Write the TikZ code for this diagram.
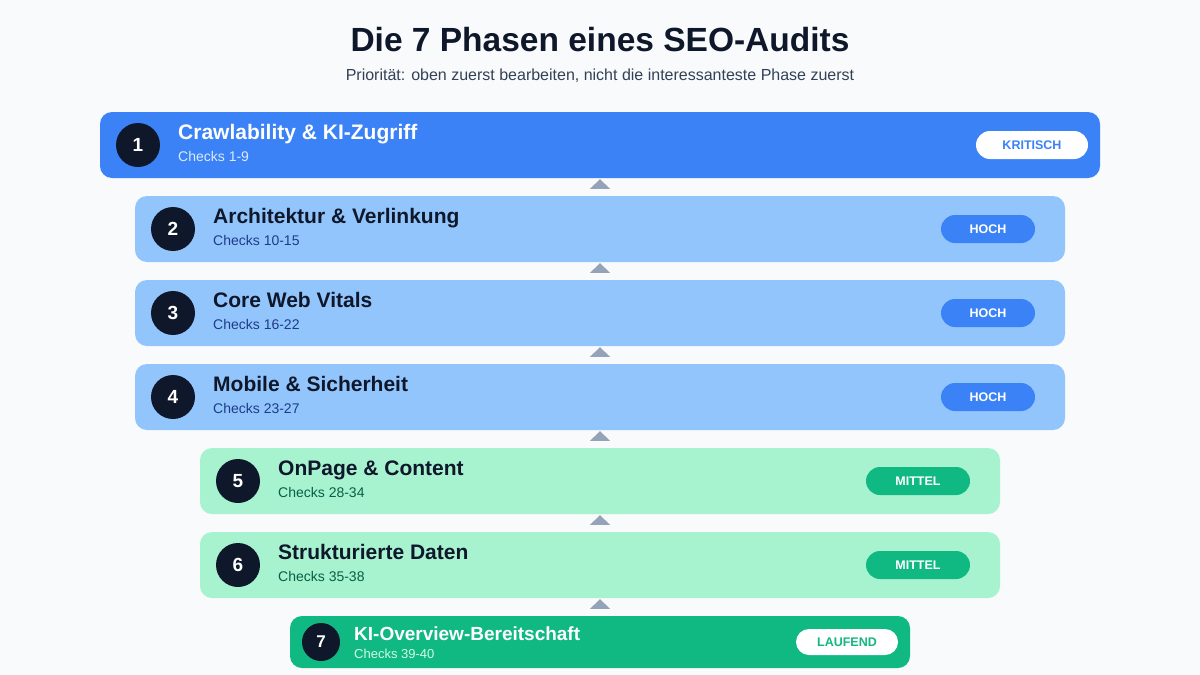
\documentclass[tikz,border=0pt]{standalone}
\usepackage{fontspec}
\setmainfont{Liberation Sans}
\usetikzlibrary{calc}
\definecolor{bg}{HTML}{F8FAFC}
\definecolor{navy}{HTML}{0F172A}
\definecolor{blueA}{HTML}{3B82F6}
\definecolor{blueL}{HTML}{93C5FD}
\definecolor{greenL}{HTML}{A7F3D0}
\definecolor{greenA}{HTML}{10B981}
\definecolor{arrowgray}{HTML}{94A3B8}
\definecolor{subgray}{HTML}{334155}
\definecolor{blueText}{HTML}{1E3A8A}
\definecolor{greenText}{HTML}{065F46}
\definecolor{paleBlue}{HTML}{DBEAFE}
\definecolor{paleGreen}{HTML}{D1FAE5}
\tikzset{
  phasebox/.style={draw=none, rounded corners=12pt, minimum height=66pt, inner sep=0pt},
  numcirc/.style={circle, fill=navy, text=white, minimum size=44pt, inner sep=0pt, font=\fontsize{19}{21}\selectfont\bfseries},
  ttl/.style={anchor=base west, inner sep=0pt, font=\fontsize{21}{24}\selectfont\bfseries},
  chk/.style={anchor=base west, inner sep=0pt, font=\fontsize{14}{16}\selectfont},
  badge/.style={rounded corners=14pt, minimum height=28pt, inner sep=0pt, font=\fontsize{12.5}{14}\selectfont\bfseries},
  tri/.style={fill=arrowgray}
}
\begin{document}
\begin{tikzpicture}[x=1pt,y=-1pt]
\useasboundingbox (0,0) rectangle (1200,675);
\fill[bg] (0,0) rectangle (1200,675);

\node[font=\fontsize{33.5}{38}\selectfont\bfseries, text=navy, anchor=base, inner sep=0pt] (title) at (600,51) {Die 7 Phasen eines SEO-Audits};
\node[font=\fontsize{16}{18}\selectfont, text=subgray, anchor=base, inner sep=0pt] (sub) at (600,80) {Priorität: oben zuerst bearbeiten, nicht die interessanteste Phase zuerst};

% Phase 1
\node[phasebox, fill=blueA, minimum width=1000pt] (b1) at (600,145) {};
\node[numcirc] (n1) at (138,145) {1};
\node[ttl, text=white] (t1) at (178,139) {Crawlability \& KI-Zugriff};
\node[chk, text=paleBlue] (c1) at (178,161) {Checks 1-9};
\node[badge, fill=white, text=blueA, minimum width=112pt] (p1) at (1032,145) {KRITISCH};

% Phase 2
\node[phasebox, fill=blueL, minimum width=930pt] (b2) at (600,229) {};
\node[numcirc] (n2) at (173,229) {2};
\node[ttl, text=navy] (t2) at (213,223) {Architektur \& Verlinkung};
\node[chk, text=blueText] (c2) at (213,245) {Checks 10-15};
\node[badge, fill=blueA, text=white, minimum width=94pt] (p2) at (988,229) {HOCH};

% Phase 3
\node[phasebox, fill=blueL, minimum width=930pt] (b3) at (600,313) {};
\node[numcirc] (n3) at (173,313) {3};
\node[ttl, text=navy] (t3) at (213,307) {Core Web Vitals};
\node[chk, text=blueText] (c3) at (213,329) {Checks 16-22};
\node[badge, fill=blueA, text=white, minimum width=94pt] (p3) at (988,313) {HOCH};

% Phase 4
\node[phasebox, fill=blueL, minimum width=930pt] (b4) at (600,397) {};
\node[numcirc] (n4) at (173,397) {4};
\node[ttl, text=navy] (t4) at (213,391) {Mobile \& Sicherheit};
\node[chk, text=blueText] (c4) at (213,413) {Checks 23-27};
\node[badge, fill=blueA, text=white, minimum width=94pt] (p4) at (988,397) {HOCH};

% Phase 5
\node[phasebox, fill=greenL, minimum width=800pt] (b5) at (600,481) {};
\node[numcirc] (n5) at (238,481) {5};
\node[ttl, text=navy] (t5) at (278,475) {OnPage \& Content};
\node[chk, text=greenText] (c5) at (278,497) {Checks 28-34};
\node[badge, fill=greenA, text=white, minimum width=104pt] (p5) at (918,481) {MITTEL};

% Phase 6
\node[phasebox, fill=greenL, minimum width=800pt] (b6) at (600,565) {};
\node[numcirc] (n6) at (238,565) {6};
\node[ttl, text=navy] (t6) at (278,559) {Strukturierte Daten};
\node[chk, text=greenText] (c6) at (278,581) {Checks 35-38};
\node[badge, fill=greenA, text=white, minimum width=104pt] (p6) at (918,565) {MITTEL};

% Phase 7
\node[phasebox, fill=greenA, minimum width=620pt, minimum height=52pt] (b7) at (600,642) {};
\node[numcirc, minimum size=38pt, font=\fontsize{17}{19}\selectfont\bfseries] (n7) at (321,642) {7};
\node[ttl, text=white, font=\fontsize{19}{22}\selectfont\bfseries] (t7) at (354,640) {KI-Overview-Bereitschaft};
\node[chk, text=paleGreen, font=\fontsize{13}{15}\selectfont] (c7) at (354,658) {Checks 39-40};
\node[badge, fill=white, text=greenA, minimum width=102pt, minimum height=26pt, rounded corners=13pt] (p7) at (847,642) {LAUFEND};

% Up-pointing arrows between phases
\foreach \u/\l in {b1/b2,b2/b3,b3/b4,b4/b5,b5/b6,b6/b7}{
  \fill[tri] ($(\u.south)+(0,1)$) -- ($(\l.north)+(10,-7)$) -- ($(\l.north)+(-10,-7)$) -- cycle;
}
\end{tikzpicture}
\end{document}
